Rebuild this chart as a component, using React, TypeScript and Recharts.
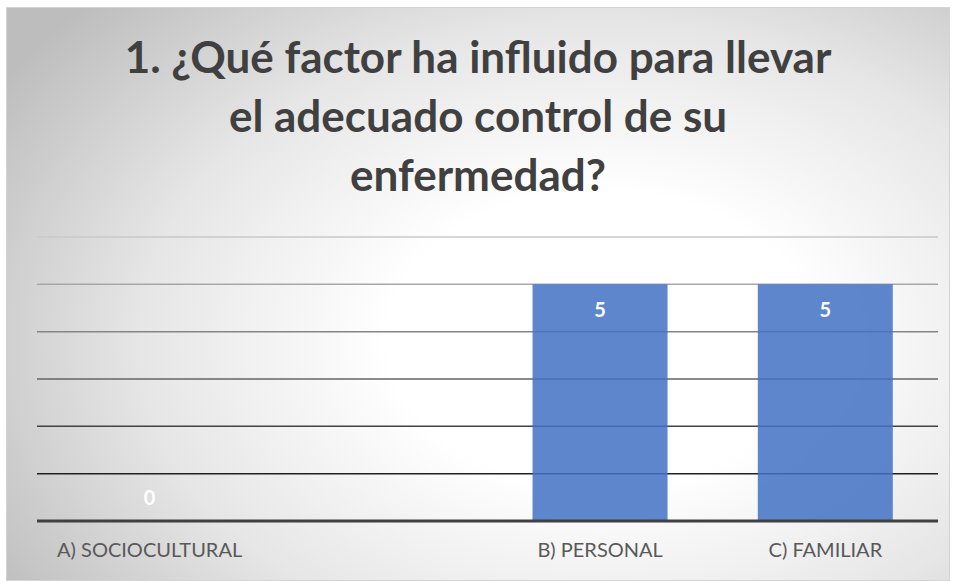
import React from 'react';
import { BarChart, Bar, XAxis, YAxis, CartesianGrid, LabelList, Cell } from 'recharts';

const categories = ['A) SOCIOCULTURAL', '', 'B) PERSONAL', 'C) FAMILIAR'];
const values: (number | null)[] = [0, null, 5, 5];
const yTicks = [0, 1, 2, 3, 4, 5, 6];
const titleLines = ['1. ¿Qué factor ha influido para llevar', 'el adecuado control de su', 'enfermedad?'];

const W = 944;
const H = 574;
const PLOT_TOP = 230;
const PLOT_BOTTOM = 514;
const FONT = "Lato, 'Open Sans', sans-serif";

// gridlines fade from light gray at the top to near black at the bottom
const gridColor = (y: number) => {
  const t = Math.max(0, Math.min(1, (y - PLOT_TOP) / (PLOT_BOTTOM - PLOT_TOP)));
  const v = Math.round(200 - t * 200);
  return `rgb(${v},${v},${v})`;
};

const GridLine = (props: any) => (
  <line
    key={props.key}
    x1={props.x1}
    x2={props.x2}
    y1={props.y1}
    y2={props.y2}
    stroke={gridColor(props.y1)}
    strokeWidth={1.5}
  />
);

const ValueLabel = (props: any) => {
  const { x, y, width, height, value } = props;
  if (value === null || value === undefined || value === '') return null;
  const isZero = Number(value) === 0;
  const ty = isZero ? y + (height || 0) - 24 : y + 25;
  return (
    <text
      x={x + width / 2}
      y={ty}
      fill="#fff"
      fontSize={20}
      fontWeight="bold"
      fontFamily={FONT}
      textAnchor="middle"
      dominantBaseline="central"
    >
      {value}
    </text>
  );
};

export default function App() {
  const data = categories.map((name, i) => ({ name, value: values[i] }));

  return (
    <>
      <style>{`html,body{margin:0;overflow:hidden;}`}</style>
      <div
        style={{
          position: 'absolute',
          left: 6,
          top: 7,
          width: W,
          height: H,
          background:
            'radial-gradient(ellipse 75% 85% at 63% 58%, #ffffff 0%, #ffffff 30%, #e6e6e6 65%, #bdbdbd 100%)',
          boxShadow: 'inset 0 0 0 1px #d4d4d4',
          fontFamily: FONT,
        }}
      >
        <div
          style={{
            position: 'absolute',
            left: 0,
            top: 20,
            width: W,
            textAlign: 'center',
            fontWeight: 'bold',
            fontSize: 44,
            lineHeight: '59px',
            color: '#404040',
          }}
        >
          {titleLines.map((l) => (
            <div key={l}>{l}</div>
          ))}
        </div>
        <div style={{ position: 'absolute', left: 0, top: 0 }}>
          <BarChart
            width={W}
            height={H}
            data={data}
            margin={{ top: PLOT_TOP, right: 12, left: 31, bottom: 0 }}
            barCategoryGap="20%"
          >
            <CartesianGrid vertical={false} horizontal={GridLine} />
            <YAxis hide domain={[0, 6]} ticks={yTicks} />
            <XAxis
              dataKey="name"
              height={H - PLOT_BOTTOM}
              tickLine={false}
              tickSize={0}
              tickMargin={22}
              interval={0}
              axisLine={{ stroke: '#404040', strokeWidth: 3 }}
              tick={{ fill: '#595959', fontSize: 20, fontFamily: FONT }}
            />
            <Bar
              dataKey="value"
              fill="#4472C4"
              fillOpacity={0.86}
              minPointSize={(v: any) => (v === 0 ? 1 : 0)}
              isAnimationActive={false}
            >
              {data.map((d, i) => (
                <Cell key={i} fillOpacity={d.value === 0 ? 0 : 0.86} />
              ))}
              <LabelList dataKey="value" content={ValueLabel} />
            </Bar>
          </BarChart>
        </div>
      </div>
    </>
  );
}
